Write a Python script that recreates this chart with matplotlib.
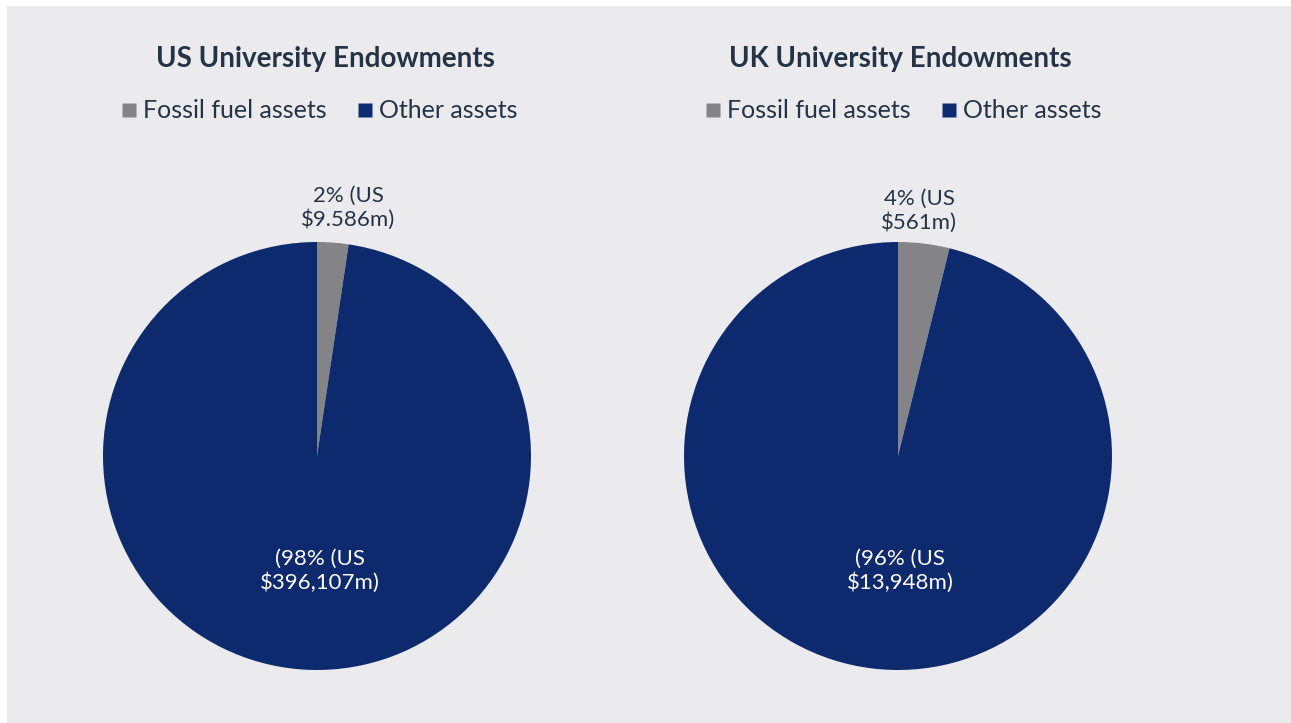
import matplotlib
matplotlib.use("Agg")
import matplotlib.pyplot as plt
from matplotlib.patches import Rectangle
from matplotlib.lines import Line2D

plt.rcParams['font.family'] = ['Lato', 'DejaVu Sans']

# Data
categories = ["Fossil fuel assets", "Other assets"]
titles = ["US University Endowments", "UK University Endowments"]
us_values = [9586, 396107]
uk_values = [561, 13948]
us_labels = ["2% (US\n$9.586m)", "(98% (US\n$396,107m)"]
uk_labels = ["4% (US\n$561m)", "(96% (US\n$13,948m)"]

colors = ["#848487", "#0E2A6F"]
text_color = "#243447"
bg = "#EBEBED"

W, H = 1291, 723
fig = plt.figure(figsize=(W / 100, H / 100), dpi=100, facecolor="white")
fig.patches.append(Rectangle((7 / W, 0), 1 - 7 / W, 1 - 6 / H, transform=fig.transFigure,
                             facecolor=bg, edgecolor="none", zorder=-10))

R = 214
panels = [
    (us_values, us_labels, titles[0], 317, 456, 325, 320, (348, 208), (320, 571)),
    (uk_values, uk_labels, titles[1], 898, 456, 900, 904, (919, 211), (900, 571)),
]

for values, labels, title, cx, cy, tx, lx, p1, p2 in panels:
    ax = fig.add_axes([(cx - R) / W, (H - cy - R) / H, 2 * R / W, 2 * R / H])
    ax.pie(values, colors=colors, startangle=90, counterclock=False, radius=1,
           wedgeprops=dict(linewidth=0))
    ax.set_xlim(-1, 1)
    ax.set_ylim(-1, 1)
    ax.axis("off")
    ax.text((p1[0] - cx) / R, (cy - p1[1]) / R, labels[0], ha="center", va="center",
            fontsize=16, color=text_color, linespacing=1.2)
    ax.text((p2[0] - cx) / R, (cy - p2[1]) / R, labels[1], ha="center", va="center",
            fontsize=16, color="white", linespacing=1.2)
    fig.text(tx / W, 1 - 59 / H, title, ha="center", va="center", fontsize=20,
             fontweight="bold", color=text_color)
    handles = [Line2D([], [], marker="s", linestyle="none", markersize=10,
                      markerfacecolor=c, markeredgecolor="none") for c in colors]
    fig.legend(handles, categories, loc="center", bbox_to_anchor=(lx / W, 1 - 111 / H),
               ncol=2, frameon=False, fontsize=18, handlelength=0.5,
               handletextpad=0.3, columnspacing=1.3, labelcolor=text_color)

fig.savefig("out.png", dpi=100, facecolor=fig.get_facecolor())
